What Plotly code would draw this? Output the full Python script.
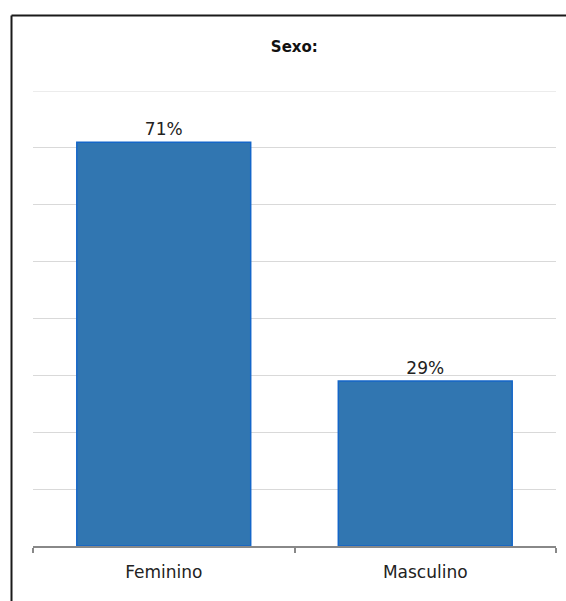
import plotly.graph_objects as go

categories = ["Feminino", "Masculino"]
values = [71, 29]
y_ticks = [0, 10, 20, 30, 40, 50, 60, 70, 80]

fig = go.Figure()
fig.add_trace(go.Bar(
    x=categories,
    y=values,
    marker=dict(color="#3176b1", line=dict(color="#1466c8", width=1.5)),
    texttemplate="%{y}%",
    textposition="outside",
    textfont=dict(family="DejaVu Sans", size=17, color="#222222"),
    cliponaxis=False,
    hoverinfo="skip",
))

fig.update_layout(
    width=566, height=601,
    margin=dict(l=33, r=10, t=91, b=55),
    paper_bgcolor="white", plot_bgcolor="white",
    bargap=0.335,
    showlegend=False,
    title=dict(text="<b>Sexo:</b>", x=0.52, xanchor="center", y=1 - 47 / 601, yanchor="middle",
               font=dict(family="DejaVu Sans", size=15, color="#111111")),
    font=dict(family="DejaVu Sans", size=17, color="#222222"),
)
fig.update_yaxes(range=[0, 80], tickvals=y_ticks, showticklabels=False,
                 showgrid=True, gridcolor="#d9d9d9", gridwidth=1, zeroline=False, showline=False)
fig.update_xaxes(showline=True, linecolor="#888888", linewidth=1.5, ticks="outside",
                 tickson="boundaries", ticklen=5, tickcolor="#888888", tickwidth=1.5,
                 ticklabelstandoff=10,
                 showgrid=False, tickfont=dict(family="DejaVu Sans", size=17, color="#222222"))

# top gridline at the axis maximum
fig.add_shape(type="line", xref="paper", yref="y", x0=0, x1=1, y0=y_ticks[-1], y1=y_ticks[-1],
              line=dict(color="#d9d9d9", width=1), layer="below")

# outer border (left and top edges of a frame extending beyond the window)
x_left = (11.5 - 33) / 523
y_top = 1 + (91 - 15.5) / 455
fig.add_shape(type="line", xref="paper", yref="paper", x0=x_left, x1=x_left, y0=-0.3, y1=y_top,
              line=dict(color="#1a1a1a", width=2))
fig.add_shape(type="line", xref="paper", yref="paper", x0=x_left, x1=1.2, y0=y_top, y1=y_top,
              line=dict(color="#1a1a1a", width=2))

fig.write_html("out.html")
